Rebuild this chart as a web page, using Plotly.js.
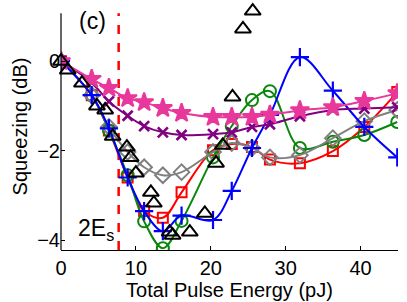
<!DOCTYPE html>
<html>
<head>
<meta charset="utf-8">
<script src="https://cdn.plot.ly/plotly-3.0.1.min.js"></script>
<style>html,body{margin:0;padding:0;background:#fff;}#chart{width:407px;height:302px;}</style>
</head>
<body>
<div id="chart"></div>
<script>
// Shared pulse energies (pJ) of the simulated curves
const energy = [0, 4.1, 6.4, 8.9, 11.1, 13.6, 16.1, 20.3, 22.8, 25.5, 27.9, 31.9, 36.3, 40.5, 44.9];
const redSqueeze    = [0, -0.76, -1.55, -2.6, -3.35, -3.5, -2.93, -1.99, -1.85, -1.92, -2.2, -2.28, -2.01, -1.47, -0.69];
const greenSqueeze  = [0, -0.76, -1.55, -2.55, -3.58, -4.18, -3.57, -2.15, -1.45, -0.87, -0.67, -1.94, -1.8, -1.65, -1.36];
const graySqueeze   = [0, -0.76, -1.47, -2.03, -2.37, -2.55, -2.48, -2.03, -1.83, -1.94, -2.15, -2.1, -1.72, -1.34, -1.09];
const blueSqueeze   = [0, -0.76, -1.5, -2.6, -3.35, -3.8, -3.45, -3.55, -2.9, -1.94, -1.2, 0.09, -0.66, -1.47, -2.15];
const purpleSqueeze = [0, -0.48, -0.9, -1.22, -1.45, -1.59, -1.65, -1.63, -1.59, -1.47, -1.41, -1.23, -1.09, -1.06, -1.03];
const pinkSqueeze   = [0, -0.4, -0.6, -0.83, -0.92, -1.05, -1.16, -1.25, -1.25, -1.25, -1.2, -1.1, -1.03, -0.89, -0.72];
// Experimental points (triangles)
const expEnergy  = [0, 0.9, 2.8, 4.8, 5.9, 6.9, 8.8, 9.3, 10, 12, 12.4, 14.5, 14.9, 17.2, 19.2, 20.7, 21.6, 22.9, 24.3, 25.6];
const expSqueeze = [0, -0.2, -0.49, -1.0, -1.09, -1.68, -1.92, -2.15, -2.5, -2.93, -3.17, -3.82, -3.89, -3.82, -3.4, -2.28, -1.88, -0.8, 0.72, 1.12];
// Twice the soliton energy marker
const twoEs = 7.7;
const xTicks = [0, 10, 20, 30, 40];
const yTicks = [-4, -2, 0];
const yTickText = ['\u22124', '\u22122', '0'];

const FONT = 'Liberation Sans, Arial, Helvetica, sans-serif';
const Y_BOTTOM = -4.22, Y_AXIS_TOP = 1.07, Y_RANGE_TOP = 1.30;

function curve(y, color, symbol, size, lw) {
  return {
    x: energy, y: y, type: 'scatter', mode: 'lines+markers',
    line: {color: color, width: 2, shape: 'spline', smoothing: 1},
    marker: {symbol: symbol, size: size, color: color, line: {color: color, width: lw || 2}},
    showlegend: false, hoverinfo: 'skip'
  };
}

const traces = [
  curve(redSqueeze, '#ff0000', 'square-open', 10),
  curve(greenSqueeze, '#0a870a', 'circle-open', 12),
  curve(graySqueeze, '#808080', 'diamond-open', 12),
  curve(blueSqueeze, '#0000ff', 'cross-thin-open', 13, 2.2),
  curve(purpleSqueeze, '#800080', 'x-thin-open', 10, 2.6),
  curve(pinkSqueeze, '#e8389c', 'star', 14),
  {
    x: expEnergy, y: expSqueeze, type: 'scatter', mode: 'markers',
    marker: {symbol: 'triangle-up-open', size: 14, color: '#000', line: {color: '#000', width: 2}},
    cliponaxis: false, showlegend: false, hoverinfo: 'skip'
  }
];

const layout = {
  width: 407, height: 302,
  margin: {l: 61, r: 9, t: 3, b: 52},
  paper_bgcolor: '#fff', plot_bgcolor: '#fff',
  font: {family: FONT, size: 20, color: '#000'},
  xaxis: {
    range: [0, 45], tickvals: xTicks, ticktext: xTicks.map(String),
    ticks: 'inside', ticklen: 4, tickwidth: 1, tickcolor: '#000',
    showline: true, linecolor: '#000', linewidth: 1.2, mirror: false,
    showgrid: false, zeroline: false,
    tickfont: {family: FONT, size: 20},
    title: {text: 'Total Pulse Energy (pJ)', font: {family: FONT, size: 20}, standoff: 0}
  },
  yaxis: {
    range: [Y_BOTTOM, Y_RANGE_TOP], tickvals: yTicks, ticktext: yTickText,
    ticks: 'inside', ticklen: 4, tickwidth: 1, tickcolor: '#000',
    showline: false, showgrid: false, zeroline: false,
    tickfont: {family: FONT, size: 20},
    title: {text: 'Squeezing (dB)', font: {family: FONT, size: 20}, standoff: 4}
  },
  shapes: [
    {type: 'line', xref: 'paper', yref: 'y', x0: 0, x1: 0, y0: Y_BOTTOM, y1: Y_AXIS_TOP,
     line: {color: '#000', width: 1.2}},
    {type: 'line', xref: 'x', yref: 'y', x0: twoEs, x1: twoEs, y0: Y_BOTTOM, y1: Y_AXIS_TOP,
     line: {color: '#ff0000', width: 2.5, dash: 'dash'}, layer: 'below'}
  ],
  annotations: [
    {text: '(c)', xref: 'paper', yref: 'paper', x: 0.092, y: 0.927,
     xanchor: 'center', yanchor: 'middle', showarrow: false, font: {family: FONT, size: 23}},
    {text: '2E<sub>s</sub>', xref: 'paper', yref: 'paper', x: 0.105, y: 0.085,
     xanchor: 'center', yanchor: 'middle', showarrow: false, font: {family: FONT, size: 23}}
  ]
};

Plotly.newPlot('chart', traces, layout, {staticPlot: true, displayModeBar: false});
</script>
</body>
</html>
